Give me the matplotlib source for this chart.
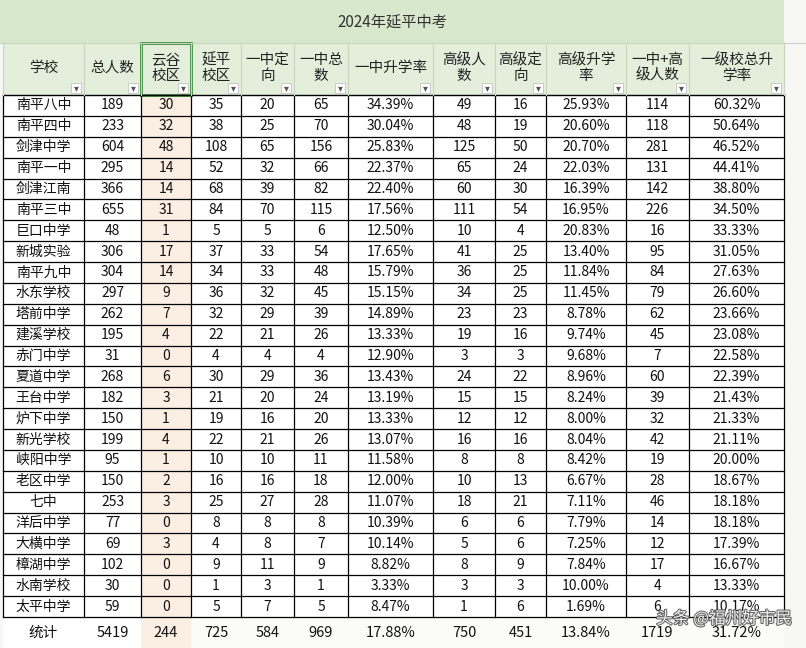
import matplotlib
matplotlib.use("Agg")
import matplotlib.pyplot as plt
import matplotlib.patheffects as pe
from matplotlib.patches import Rectangle

plt.rcParams['font.family'] = ['Noto Sans CJK SC']

title = "2024年延平中考"
headers = ["学校", "总人数", "云谷\n校区", "延平\n校区", "一中定\n向", "一中总\n数", "一中升学率",
           "高级人\n数", "高级定\n向", "高级升学\n率", "一中+高\n级人数", "一级校总升\n学率"]
schools = ["南平八中","南平四中","剑津中学","南平一中","剑津江南","南平三中","巨口中学","新城实验","南平九中",
           "水东学校","塔前中学","建溪学校","赤门中学","夏道中学","王台中学","炉下中学","新光学校","峡阳中学",
           "老区中学","七中","洋后中学","大横中学","樟湖中学","水南学校","太平中学"]
total = [189,233,604,295,366,655,48,306,304,297,262,195,31,268,182,150,199,95,150,253,77,69,102,30,59]
yungu = [30,32,48,14,14,31,1,17,14,9,7,4,0,6,3,1,4,1,2,3,0,3,0,0,0]
yanping = [35,38,108,52,68,84,5,37,34,36,32,22,4,30,21,19,22,10,16,25,8,4,9,1,5]
yz_dx = [20,25,65,32,39,70,5,33,33,32,29,21,4,29,20,16,21,10,16,27,8,8,11,3,7]
yz_total = [65,70,156,66,82,115,6,54,48,45,39,26,4,36,24,20,26,11,18,28,8,7,9,1,5]
yz_rate = ["34.39%","30.04%","25.83%","22.37%","22.40%","17.56%","12.50%","17.65%","15.79%","15.15%","14.89%",
           "13.33%","12.90%","13.43%","13.19%","13.33%","13.07%","11.58%","12.00%","11.07%","10.39%","10.14%",
           "8.82%","3.33%","8.47%"]
gj = [49,48,125,65,60,111,10,41,36,34,23,19,3,24,15,12,16,8,10,18,6,5,8,3,1]
gj_dx = [16,19,50,24,30,54,4,25,25,25,23,16,3,22,15,12,16,8,13,21,6,6,9,3,6]
gj_rate = ["25.93%","20.60%","20.70%","22.03%","16.39%","16.95%","20.83%","13.40%","11.84%","11.45%","8.78%",
           "9.74%","9.68%","8.96%","8.24%","8.00%","8.04%","8.42%","6.67%","7.11%","7.79%","7.25%","7.84%",
           "10.00%","1.69%"]
sum_n = [114,118,281,131,142,226,16,95,84,79,62,45,7,60,39,32,42,19,28,46,14,12,17,4,6]
all_rate = ["60.32%","50.64%","46.52%","44.41%","38.80%","34.50%","33.33%","31.05%","27.63%","26.60%","23.66%",
            "23.08%","22.58%","22.39%","21.43%","21.33%","21.11%","20.00%","18.67%","18.18%","18.18%","17.39%",
            "16.67%","13.33%","10.17%"]
totals_row = ["统计","5419","244","725","584","969","17.88%","750","451","13.84%","1719","31.72%"]

cols = [schools,total,yungu,yanping,yz_dx,yz_total,yz_rate,gj,gj_dx,gj_rate,sum_n,all_rate]
xb = [3,84,141,191,241,294,348,433,495,546,626,689,784]

fig = plt.figure(figsize=(8.06,6.48), dpi=100)
ax = fig.add_axes([0,0,1,1])
ax.set_xlim(0,806); ax.set_ylim(648,0); ax.axis('off')

ax.add_patch(Rectangle((0,0),806,648,fc='#f7f7f5',ec='none'))
ax.add_patch(Rectangle((0,0),784,43,fc='#d8e8cc',ec='none'))
ax.text(392,22,title,ha='center',va='center',fontsize=11,color='#333333')
ax.add_patch(Rectangle((3,43),781,52,fc='#e3eedb',ec='none'))
ax.add_patch(Rectangle((141,95),50,553,fc='#fbeee2',ec='none'))
ax.add_patch(Rectangle((3,95),138,553,fc='white',ec='none'))
ax.add_patch(Rectangle((191,95),593,522,fc='white',ec='none'))
ax.add_patch(Rectangle((191,617),593,31,fc='#fbfbfa',ec='none'))

for i,h in enumerate(headers):
    cx = (xb[i]+xb[i+1])/2
    ax.text(cx,68,h,ha='center',va='center',fontsize=10.5,color='#222222',linespacing=1.1)
    ax.add_patch(Rectangle((xb[i+1]-13,83),10,10,fc='white',ec='#bbbbbb',lw=0.5))
    ax.text(xb[i+1]-8,88.5,"▾",ha='center',va='center',fontsize=7,color='#555555',family='DejaVu Sans')

n = len(schools)
rh = 522/n
for r in range(n):
    y0 = 95 + r*rh
    for c in range(12):
        cx = (xb[c]+xb[c+1])/2
        ax.text(cx,y0+rh/2,str(cols[c][r]),ha='center',va='center',fontsize=10,color='#111111')
    ax.plot([3,784],[y0+rh,y0+rh],color='black',lw=0.9)
ax.plot([3,784],[95,95],color='black',lw=1)
for c in range(12):
    cx = (xb[c]+xb[c+1])/2
    ax.text(cx,633,totals_row[c],ha='center',va='center',fontsize=10.5,color='#111111')
for x in xb:
    ax.plot([x,x],[95,617],color='black',lw=0.9)
for x in xb:
    ax.plot([x,x],[43,95],color='#c8d3c0',lw=0.8)
ax.plot([0,806],[43,43],color='#c8d3c0',lw=0.8)
ax.add_patch(Rectangle((141,43),50,52,fc='none',ec='#3a8a3a',lw=2))
ax.text(792,619,"头条 @福州好市民",ha='right',va='center',fontsize=12,color='white',alpha=0.9,
        path_effects=[pe.withStroke(linewidth=1.5,foreground='#555555')])
fig.savefig("out.png",dpi=100)
